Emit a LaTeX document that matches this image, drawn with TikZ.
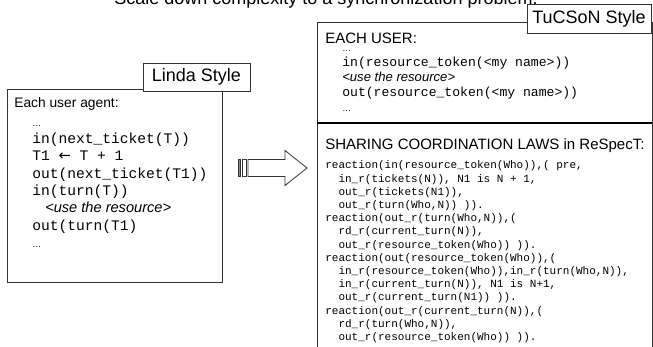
\documentclass[tikz,border=0pt]{standalone}
\usepackage{fontspec}
\setmainfont{Liberation Sans}
\setmonofont{Liberation Mono}
\newfontfamily\arrowfont{DejaVu Sans}
\newcommand{\skipdots}{{\rmfamily\fontsize{9}{9}\selectfont\textellipsis}}
\newcommand{\usenote}{{\rmfamily\itshape<use the resource>}}
\tikzset{
  frame/.style={draw=black!80,line width=0.8pt},
  tag/.style={frame,fill=white,inner sep=0pt,font=\fontsize{18}{20}\selectfont},
  head/.style={anchor=base west,inner sep=0pt,font=\fontsize{15}{17}\selectfont},
  bigcode/.style={anchor=base west,inner sep=0pt,font=\ttfamily\fontsize{14.6}{17}\selectfont},
  midcode/.style={anchor=base west,inner sep=0pt,font=\ttfamily\fontsize{13.1}{15}\selectfont},
  smallcode/.style={anchor=base west,inner sep=0pt,font=\ttfamily\fontsize{11}{13}\selectfont}
}
\begin{document}
\begin{tikzpicture}[x=1pt,y=1pt,semithick]
\useasboundingbox (0,0) rectangle (653,347);
\node[anchor=base,inner sep=0pt,font=\fontsize{18}{20}\selectfont] (title) at (326,342) {Scale down complexity to a synchronization problem.};
\draw[frame] (7,258) rectangle (222,65);
\node[tag,minimum width=107pt,minimum height=28pt] (linda) at (196.5,270) {Linda Style};
\node[head,font=\fontsize{13.8}{16}\selectfont] (agent) at (14,239) {Each user agent:};
\foreach \d/\t [count=\i] in {0/\skipdots,0/{in(next\_ticket(T))},0/{T1 {\arrowfont ←} T + 1},
  0/{out(next\_ticket(T1))},0/{in(turn(T))},1/\usenote,0/{out(turn(T1)},0/\skipdots}
  \node[bigcode] (ticket\i) at (32+13*\d,238-17.3*\i) {\t};
\draw[frame,fill=black!45] (238,170.5) rectangle (240.5,187.5);
\draw[frame,fill=white] (242.5,170.5) rectangle (246,187.5);
\draw[frame,fill=white] (248,187.5) -- (285,187.5) -- (285,196.5) -- (307,179)
  -- (285,161.5) -- (285,170.5) -- (248,170.5) -- cycle;
\draw[frame] (317,-5) |- (652,325) -- (652,-5);
\draw[line width=2pt] (317,224) -- (652,224);
\node[tag,minimum width=124pt,minimum height=29pt] (tucson) at (589,328.5) {TuCSoN Style};
\node[head] (user) at (325,303.6) {EACH USER:};
\foreach \t [count=\i] in {\skipdots,{in(resource\_token(<my name>))},\usenote,
  {out(resource\_token(<my name>))},\skipdots}
  \node[midcode] (token\i) at (342,310.5-15*\i) {\t};
\node[head] (laws) at (325,197) {SHARING COORDINATION LAWS in ReSpecT:};
\foreach \d/\t [count=\i] in {0/{reaction(in(resource\_token(Who)),( pre,},
  1/{in\_r(tickets(N)), N1 is N + 1,},1/{out\_r(tickets(N1)),},1/{out\_r(turn(Who,N)) )).},
  0/{reaction(out\_r(turn(Who,N)),(},1/{rd\_r(current\_turn(N)),},
  1/{out\_r(resource\_token(Who)) )).},0/{reaction(out(resource\_token(Who)),(},
  1/{in\_r(resource\_token(Who)),in\_r(turn(Who,N)),},1/{in\_r(current\_turn(N)), N1 is N+1,},
  1/{out\_r(current\_turn(N1)) )).},0/{reaction(out\_r(current\_turn(N)),(},
  1/{rd\_r(turn(Who,N)),},1/{out\_r(resource\_token(Who)) )).}}
  \node[smallcode] (law\i) at (325+13.2*\d,191.2-13.2*\i) {\t};
\end{tikzpicture}
\end{document}
